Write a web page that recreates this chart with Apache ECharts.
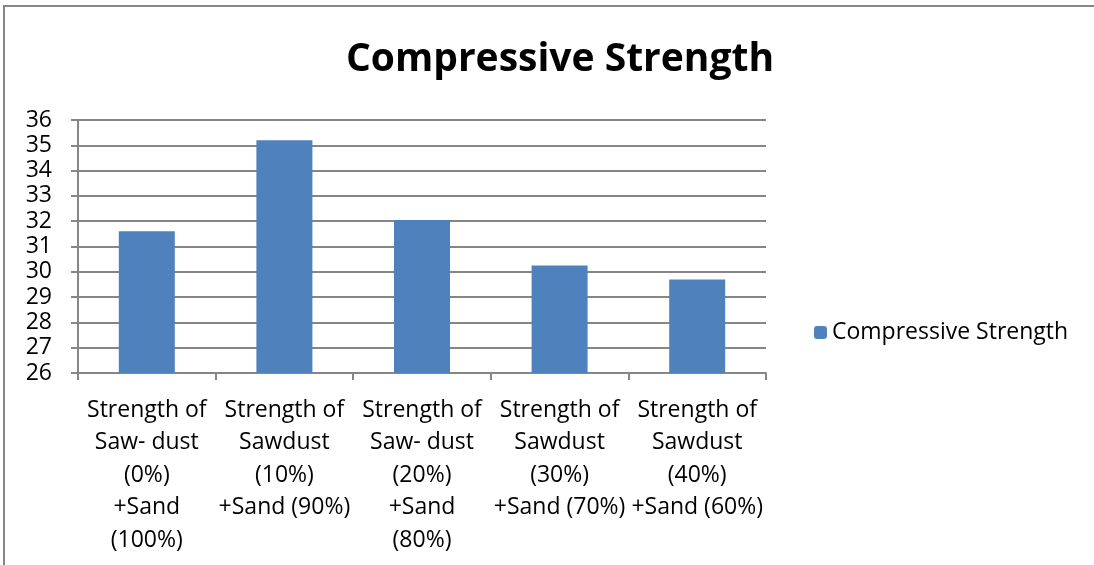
<!DOCTYPE html>
<html>
<head>
<meta charset="UTF-8">
<script src="https://cdn.jsdelivr.net/npm/echarts@6/dist/echarts.min.js"></script>
<style>
html, body { margin: 0; padding: 0; background: #fff; }
#frame {
	position: absolute;
	left: 3px;
	top: 5px;
	width: 1091px;
	height: 560px;
	border-left: 2px solid #868686;
	border-top: 2px solid #868686;
	box-sizing: border-box;
	pointer-events: none;
}
#main { width: 1094px; height: 565px; }
</style>
</head>
<body>
<div id="main"></div>
<div id="frame"></div>
<script type="text/javascript">
// data
var categories = [
	'Strength of\nSaw- dust\n(0%)\n+Sand\n(100%)',
	'Strength of\nSawdust\n(10%)\n+Sand (90%)',
	'Strength of\nSaw- dust\n(20%)\n+Sand\n(80%)',
	'Strength of\nSawdust\n(30%)\n+Sand (70%)',
	'Strength of\nSawdust\n(40%)\n+Sand (60%)'
];
var strength = [31.6, 35.2, 32.05, 30.25, 29.7];
var seriesName = 'Compressive Strength';

var font = '"Open Sans", Lato, sans-serif';
var gray = '#868686';

var myChart = echarts.init(document.getElementById('main'));

var option = {
	animation: false,
	title: {
		text: 'Compressive Strength',
		left: 555,
		top: 35,
		textAlign: 'center',
		textStyle: { fontFamily: font, fontSize: 39, fontWeight: 'bold', color: '#000' }
	},
	legend: {
		data: [seriesName],
		left: 809,
		top: 316,
		itemWidth: 13,
		itemHeight: 13,
		itemGap: 10,
		textStyle: { fontFamily: font, fontSize: 23, color: '#000' }
	},
	grid: {
		left: 78,
		right: 328,
		top: 120,
		bottom: 192,
		containLabel: false
	},
	xAxis: {
		type: 'category',
		data: categories,
		axisLine: { lineStyle: { color: gray, width: 2 } },
		axisTick: { show: true, length: 7, lineStyle: { color: gray, width: 2 } },
		axisLabel: {
			interval: 0,
			margin: 21,
			fontFamily: font,
			fontSize: 23,
			lineHeight: 32.5,
			color: '#000',
			align: 'center'
		}
	},
	yAxis: {
		type: 'value',
		min: 26,
		max: 36,
		interval: 1,
		axisLine: { show: true, lineStyle: { color: gray, width: 2 } },
		axisTick: { show: true, length: 7, lineStyle: { color: gray, width: 2 } },
		splitLine: { lineStyle: { color: gray, width: 2 } },
		axisLabel: {
			margin: 26,
			fontFamily: font,
			fontSize: 23,
			color: '#000'
		}
	},
	series: [
		{
			name: seriesName,
			type: 'bar',
			data: strength,
			barWidth: 56,
			itemStyle: { color: '#4F81BD' }
		}
	]
};

myChart.setOption(option);
</script>
</body>
</html>
